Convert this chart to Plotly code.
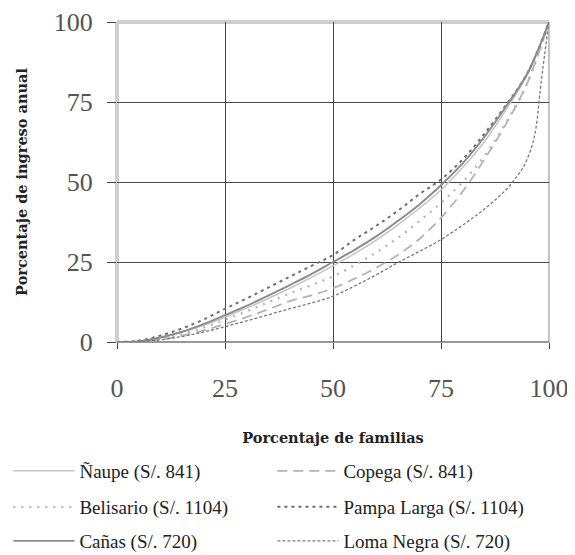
import plotly.graph_objects as go

# ---- data (percent of families vs percent of annual income) ----
x_common = [0, 5, 10, 15, 20, 25, 30, 35, 40, 45, 50, 55, 60, 65, 70, 75, 80, 85, 90, 95, 100]

naupe_y = [0, 0.2, 1.3, 3.0, 5.2, 7.8, 10.6, 13.6, 16.8, 20.2, 23.8, 27.6, 31.8, 36.6, 41.8, 47.5, 54.5, 62.5, 72.5, 83.5, 100]
copega_y = [0, 0.1, 0.8, 2.0, 3.6, 5.6, 7.8, 10.2, 12.8, 14.6, 16.8, 19.8, 23.2, 27.2, 32.2, 38.8, 47.0, 57.0, 68.0, 81.0, 100]
belisario_y = [0, 0.1, 1.0, 2.5, 4.5, 7.0, 9.6, 12.4, 15.2, 17.8, 20.5, 24.0, 28.0, 32.5, 37.8, 43.5, 50.0, 58.0, 68.5, 81.0, 100]
pampa_y = [0, 0.4, 2.0, 4.2, 7.0, 10.4, 13.6, 17.0, 20.4, 23.8, 27.2, 32.0, 36.3, 41.0, 46.2, 50.8, 57.0, 65.0, 74.0, 84.0, 100]
canas_y = [0, 0.2, 1.4, 3.2, 5.6, 8.4, 11.3, 14.5, 17.8, 21.2, 25.0, 28.8, 33.0, 37.8, 43.0, 49.0, 55.8, 64.0, 73.5, 84.0, 100]

x_loma = [0, 5, 10, 15, 20, 25, 30, 35, 40, 45, 50, 55, 60, 65, 70, 75, 80, 85, 90, 92, 94, 96, 97, 98, 99, 100]
loma_y = [0, 0.1, 0.7, 1.7, 3.1, 4.8, 6.6, 8.5, 10.4, 12.2, 14.3, 17.5, 21.0, 24.8, 28.3, 32.0, 36.5, 41.5, 47.5, 50.8, 54.5, 61.0, 67.0, 79.0, 90.0, 100]

names = ["Ñaupe (S/. 841)", "Copega (S/. 841)", "Belisario (S/. 1104)",
         "Pampa Larga (S/. 1104)", "Cañas (S/. 720)", "Loma Negra (S/. 720)"]

tick_vals = [0, 25, 50, 75, 100]
tick_text = ["0", "25", "50", "75", "100"]

SERIF = "Liberation Serif"
BOLD_SERIF = "DejaVu Serif"

fig = go.Figure()

series = [
    (x_common, naupe_y, names[0], dict(color="#c4c4c4", width=1.5, dash="solid"), "legend"),
    (x_common, copega_y, names[1], dict(color="#b4b4b4", width=1.8, dash="10px,6px"), "legend"),
    (x_common, belisario_y, names[2], dict(color="#b8b8b8", width=2.4, dash="2px,6px"), "legend2"),
    (x_common, pampa_y, names[3], dict(color="#6e6e6e", width=2.0, dash="3px,4px"), "legend2"),
    (x_common, canas_y, names[4], dict(color="#8c8c8c", width=1.9, dash="solid"), "legend3"),
    (x_loma, loma_y, names[5], dict(color="#7a7a7a", width=1.3, dash="3px,2px"), "legend3"),
]

for xs, ys, nm, ln, lg in series:
    fig.add_trace(go.Scatter(x=xs, y=ys, name=nm, mode="lines", line=ln,
                             line_shape="spline", legend=lg))

# frame: light thick left/top, light right, dark bottom
fig.add_shape(type="line", xref="paper", yref="paper", x0=0, x1=0, y0=0, y1=1,
              line=dict(color="#cfcfcf", width=4), layer="below")
fig.add_shape(type="line", xref="paper", yref="paper", x0=0, x1=1, y0=1, y1=1,
              line=dict(color="#cfcfcf", width=4), layer="below")
fig.add_shape(type="line", xref="paper", yref="paper", x0=1, x1=1, y0=0, y1=1,
              line=dict(color="#b0b0b0", width=1.5), layer="below")
fig.add_shape(type="line", xref="paper", yref="paper", x0=0, x1=1, y0=0, y1=0,
              line=dict(color="#333333", width=1.2), layer="below")

# page body adds an 8px offset; plot area is 432 x 320 px
L, T, W, H = 109, 14, 432, 320
legend_common = dict(orientation="h", xref="paper", x=-L / W + 0.001, xanchor="left",
                     yref="paper", yanchor="middle",
                     font=dict(family=SERIF, size=19, color="#222"),
                     entrywidth=188, entrywidthmode="pixels", itemwidth=61,
                     bgcolor="rgba(0,0,0,0)", borderwidth=0, traceorder="normal")

def leg_y(screen_y):
    return (T + H - (screen_y - 8)) / H

fig.update_layout(
    width=575, height=555,
    margin=dict(l=L, r=575 - L - W, t=T, b=555 - T - H, autoexpand=False),
    paper_bgcolor="white", plot_bgcolor="white",
    font=dict(family=SERIF, color="#333"),
    legend=dict(y=leg_y(471), **legend_common),
    legend2=dict(y=leg_y(507), **legend_common),
    legend3=dict(y=leg_y(541), **legend_common),
    xaxis=dict(range=[0, 100], tickvals=tick_vals, ticktext=tick_text,
               automargin=False,
               showgrid=True, gridcolor="#444", gridwidth=1,
               zeroline=False, showline=False,
               ticks="outside", ticklen=6, tickcolor="#444", tickwidth=1,
               ticklabelstandoff=17,
               tickfont=dict(family=SERIF, size=26, color="#555"),
               title=dict(text="<b>Porcentaje de familias</b>", standoff=30,
                          font=dict(family=BOLD_SERIF, size=14.5, color="#222"))),
    yaxis=dict(range=[0, 100], tickvals=tick_vals, ticktext=tick_text,
               automargin=False,
               showgrid=True, gridcolor="#444", gridwidth=1,
               zeroline=False, showline=False,
               ticks="outside", ticklen=9, tickcolor="#444", tickwidth=1,
               ticklabelstandoff=9,
               tickfont=dict(family=SERIF, size=26, color="#555"),
               title=dict(text="<b>Porcentaje de ingreso anual</b>", standoff=22,
                          font=dict(family=BOLD_SERIF, size=14.5, color="#222"))),
)

fig.write_html("out.html")
